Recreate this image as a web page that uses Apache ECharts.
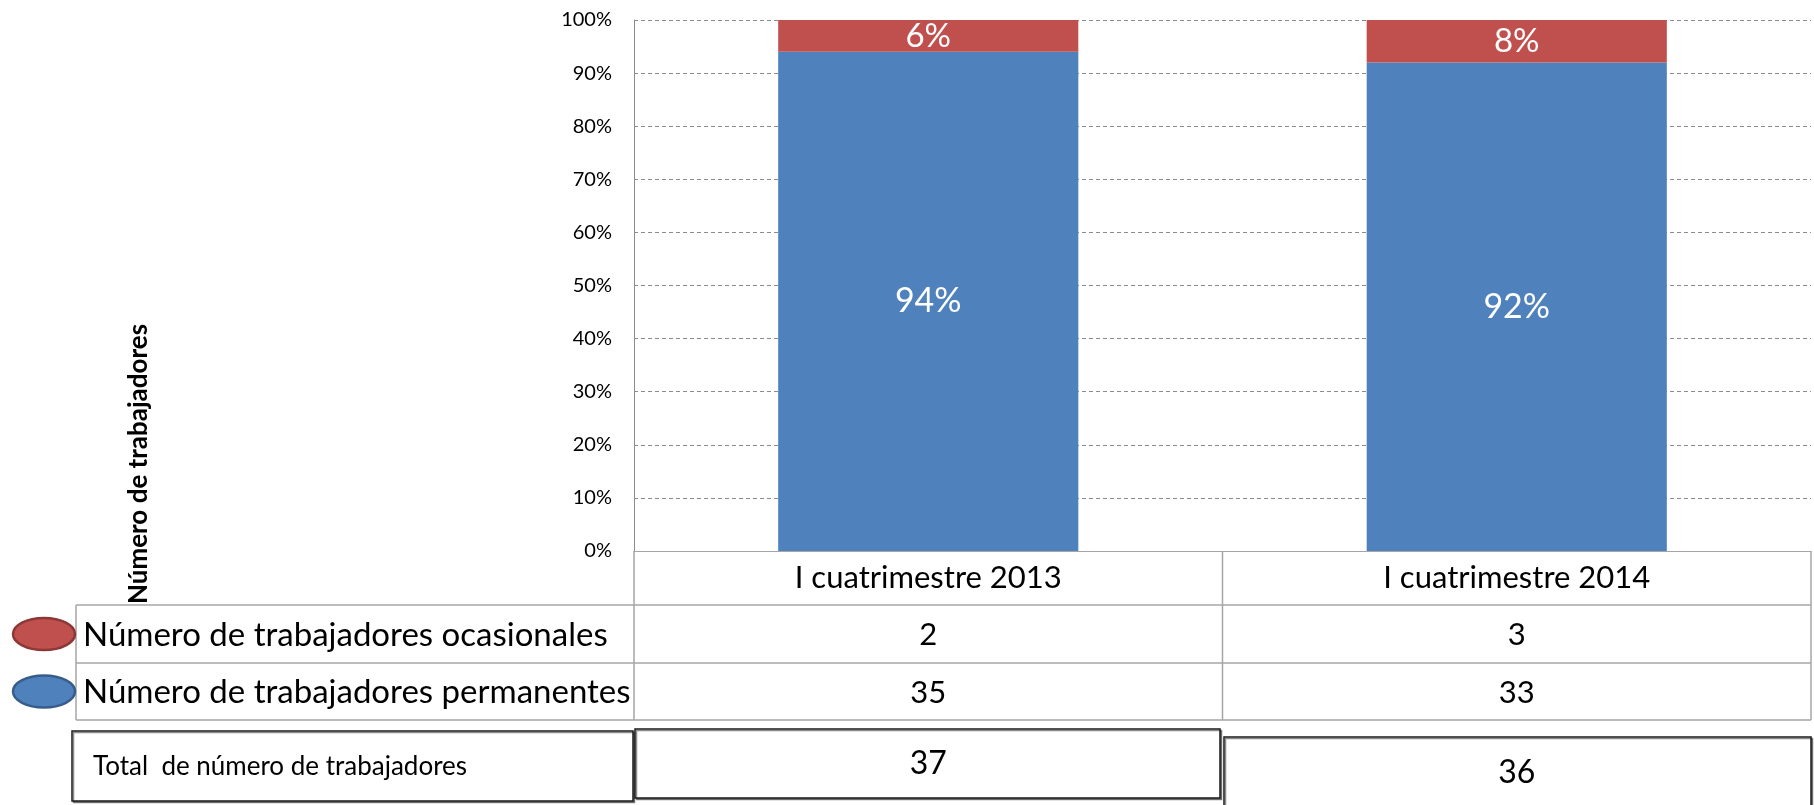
<!DOCTYPE html>
<html>
<head>
<meta charset="utf-8">
<script src="https://cdn.jsdelivr.net/npm/echarts@6/dist/echarts.min.js"></script>
<style>
  html, body { margin: 0; padding: 0; background: #fff; }
  #chart { width: 1814px; height: 805px; }
</style>
</head>
<body>
<div id="chart"></div>
<script>
  // datos
  var categories = ['I cuatrimestre 2013', 'I cuatrimestre 2014'];
  var permanentesPct = [94, 92];
  var ocasionalesPct = [6, 8];
  var ocasionales = [2, 3];
  var permanentes = [35, 33];
  var totales = [37, 36];
  var seriesNames = ['Número de trabajadores ocasionales', 'Número de trabajadores permanentes'];
  var axisTitle = 'Número de trabajadores';
  var totalLabel = 'Total  de número de trabajadores';

  var FONT = 'Lato, "Open Sans", sans-serif';
  var BLUE = '#4F81BD';
  var RED = '#C0504D';
  var LINE = '#a6a6a6';

  // layout
  var W = 1814, H = 805;
  var grid = { left: 634, right: 3, top: 20, bottom: 254 };
  var plotBottom = H - grid.bottom;
  var tableLeft = 76;
  var rows = [plotBottom, 605, 663, 720];

  var chart = echarts.init(document.getElementById('chart'), null, { renderer: 'canvas' });

  chart.setOption({
    animation: false,
    textStyle: { fontFamily: FONT },
    grid: grid,
    xAxis: {
      type: 'category',
      data: categories,
      axisLine: { show: true, lineStyle: { color: LINE, width: 1 } },
      axisTick: { show: false },
      axisLabel: {
        color: '#000',
        fontSize: 31,
        fontFamily: FONT,
        margin: 27,
        verticalAlign: 'middle'
      }
    },
    yAxis: {
      type: 'value',
      min: 0,
      max: 100,
      interval: 10,
      axisLine: { show: true, lineStyle: { color: '#8c8c8c' } },
      axisTick: { show: false },
      axisLabel: {
        formatter: '{value}%',
        color: '#000',
        fontSize: 20,
        fontFamily: FONT,
        margin: 22
      },
      splitLine: {
        show: true,
        lineStyle: { color: '#8c8c8c', type: [4, 3], width: 1 }
      }
    },
    series: [
      {
        name: seriesNames[1],
        type: 'bar',
        stack: 'total',
        barWidth: '51%',
        itemStyle: { color: BLUE },
        label: {
          show: true,
          position: 'inside',
          formatter: '{c}%',
          color: '#fff',
          fontSize: 34,
          fontFamily: FONT
        },
        data: permanentesPct
      },
      {
        name: seriesNames[0],
        type: 'bar',
        stack: 'total',
        barWidth: '51%',
        itemStyle: { color: RED },
        label: {
          show: true,
          position: 'inside',
          formatter: '{c}%',
          color: '#fff',
          fontSize: 33,
          fontFamily: FONT
        },
        data: ocasionalesPct
      }
    ]
  });

  // tabla de datos debajo del grafico
  var centers = categories.map(function (c) {
    return chart.convertToPixel({ xAxisIndex: 0 }, c);
  });
  var cellW = (W - grid.left - grid.right) / categories.length;
  var gridRight = W - grid.right;

  var g = [];
  function line(x1, y1, x2, y2, color, w) {
    g.push({
      type: 'line',
      shape: { x1: x1, y1: y1, x2: x2, y2: y2 },
      style: { stroke: color || LINE, lineWidth: w || 1.5 },
      silent: true
    });
  }
  function text(str, x, y, size, opts) {
    opts = opts || {};
    g.push({
      type: 'text',
      x: x, y: y,
      rotation: opts.rotation || 0,
      style: {
        text: str,
        fill: opts.color || '#000',
        font: (opts.weight || 'normal') + ' ' + size + 'px ' + FONT,
        textAlign: opts.align || 'center',
        textVerticalAlign: 'middle'
      },
      silent: true
    });
  }
  function box(x, y, w, h) {
    g.push({
      type: 'rect',
      shape: { x: x, y: y, width: w, height: h },
      style: {
        fill: '#fff', stroke: '#1a1a1a', lineWidth: 1.5,
        shadowColor: 'rgba(0,0,0,0.45)', shadowOffsetX: 1.5, shadowOffsetY: 1.5
      },
      silent: true
    });
  }
  function ellipse(cx, cy, color, dark) {
    g.push({
      type: 'ellipse',
      shape: { cx: cx, cy: cy, rx: 31, ry: 16 },
      style: { fill: color, stroke: dark, lineWidth: 2.5 },
      silent: true
    });
  }

  // lineas de la tabla
  for (var r = 1; r < rows.length; r++) line(tableLeft, rows[r], gridRight, rows[r]);
  line(tableLeft, rows[1], tableLeft, rows[3]);
  for (var k = 0; k <= categories.length; k++) {
    var vx = grid.left + k * cellW;
    line(vx, rows[0], vx, rows[3]);
  }

  // leyenda
  ellipse(44, (rows[1] + rows[2]) / 2, RED, '#8c3836');
  ellipse(44, (rows[2] + rows[3]) / 2, BLUE, '#385d8a');
  text(seriesNames[0], 83, (rows[1] + rows[2]) / 2 + 1, 33, { align: 'left' });
  text(seriesNames[1], 83, (rows[2] + rows[3]) / 2 + 1, 33, { align: 'left' });

  categories.forEach(function (c, i) {
    text(String(ocasionales[i]), centers[i], (rows[1] + rows[2]) / 2 + 1, 31);
    text(String(permanentes[i]), centers[i], (rows[2] + rows[3]) / 2 + 1, 31);
  });

  // totales
  box(72, 731, 561, 70);
  box(635, 729, 585, 69);
  box(1224, 737, 587, 72);
  text(totalLabel, 93, 767, 26, { align: 'left' });
  text(String(totales[0]), centers[0], 764, 32);
  text(String(totales[1]), centers[1], 773, 32);

  // titulo vertical
  text(axisTitle, 139, 464, 26, { rotation: Math.PI / 2, weight: 'bold' });

  chart.setOption({ graphic: { elements: g } });
</script>
</body>
</html>
